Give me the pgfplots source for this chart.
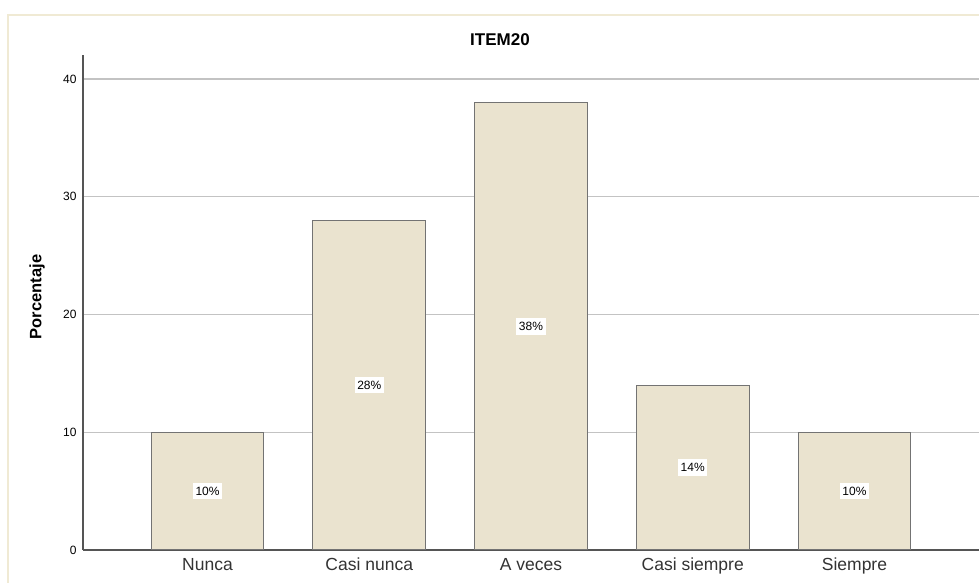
\documentclass[border=0pt]{standalone}
\usepackage{pgfplots}
\pgfplotsset{compat=1.18}
\usepackage{fontspec}
\setmainfont{Liberation Sans}
\definecolor{barfill}{RGB}{234,227,207}
\definecolor{barline}{RGB}{115,115,115}
\definecolor{gridc}{RGB}{195,195,195}
\definecolor{axisc}{RGB}{85,85,85}
\definecolor{borderc}{RGB}{240,234,212}
\begin{document}
\begin{tikzpicture}[x=1pt,y=1pt]
\path[use as bounding box] (0,0) rectangle (979,583);
\draw[color=borderc, line width=1.5pt] (8,0) -- (8,568) -- (979,568);
\begin{axis}[
  at={(83pt,33pt)}, anchor=south west,
  scale only axis, width=896pt, height=495pt,
  xmin=-0.77, xmax=4.77, ymin=0, ymax=42.04,
  axis x line*=bottom, axis y line*=left,
  axis line style={color=axisc, line width=1.4pt},
  xtick={0,1,2,3,4},
  xticklabels={Nunca,Casi nunca,A veces,Casi siempre,Siempre},
  ytick={0,10,20,30,40},
  major tick length=0pt,
  ymajorgrids, grid style={color=gridc, line width=1.3pt},
  xticklabel style={font=\fontsize{17.5}{20}\selectfont, text=black!80, text height=13pt, text depth=4pt, yshift=-4pt},
  yticklabel style={font=\fontsize{12}{14}\selectfont, text=black, xshift=-3pt},
  /pgf/number format/assume math mode=true,
  clip=false,
]
\addplot[ybar, bar width=0.697, fill=barfill, draw=barline, line width=1pt]
  coordinates {(0,10) (1,28) (2,38) (3,14) (4,10)};
\addplot[only marks, mark=none, point meta=explicit symbolic,
  nodes near coords,
  every node near coord/.append style={anchor=center, fill=white, inner xsep=2.5pt, inner ysep=4pt, font=\fontsize{12}{14}\selectfont, text=black}]
  coordinates {(0,5)[10\%] (1,14)[28\%] (2,19)[38\%] (3,7)[14\%] (4,5)[10\%]};
\end{axis}
\node[font=\bfseries\fontsize{17}{20}\selectfont] at (500,543.5) {ITEM20};
\node[font=\bfseries\fontsize{16.5}{20}\selectfont, rotate=90] at (37,286) {Porcentaje};
\end{tikzpicture}
\end{document}
